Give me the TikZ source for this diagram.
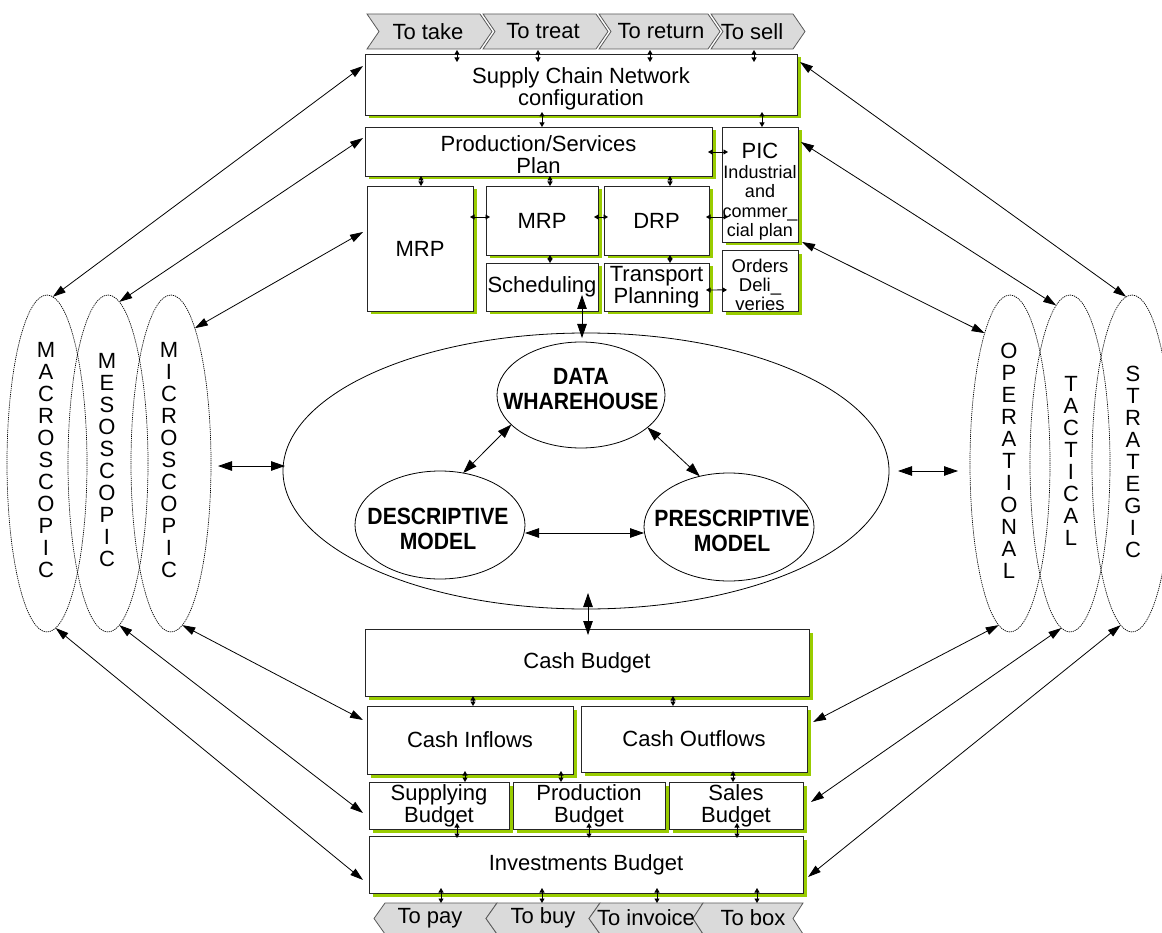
\documentclass[tikz,border=0pt]{standalone}
\usepackage{fontspec}
\setmainfont{Liberation Sans}
\newfontfamily\condsans[FakeStretch=0.9]{Liberation Sans}
\usetikzlibrary{arrows.meta,shapes.geometric,calc,shadows}
\definecolor{shadowgreen}{HTML}{99CC00}
\definecolor{chevfill}{HTML}{DADADA}

\begin{document}
\begin{tikzpicture}[x=1pt,y=-1pt,
  font=\fontsize{22}{22}\selectfont,
  box/.style={rectangle, draw=black!85, line width=0.9pt, fill=white,
    inner sep=0pt, outer sep=0pt, align=center,
    drop shadow={shadow xshift=3.5pt, shadow yshift=-3.5pt, fill=shadowgreen, opacity=1}},
  chev/.style={draw=black!65, line width=0.8pt, fill=chevfill},
  ell/.style={ellipse, draw=black, line width=0.8pt, inner sep=0pt, outer sep=0pt},
  dotell/.style={ellipse, draw=black, line width=0.7pt, dash pattern=on 1.2pt off 0.9pt,
    inner sep=0pt, outer sep=0pt, minimum width=80pt, minimum height=337pt},
  letters/.style={align=center, inner sep=0pt, font=\fontsize{22}{22}\selectfont},
  boldtxt/.style={align=center, inner sep=0pt, font=\fontsize{23.5}{24.5}\condsans\bfseries},
  tinyarr/.style={{Triangle[length=4.5pt,width=5pt]}-{Triangle[length=4.5pt,width=5pt]}, line width=0.9pt},
  bigarr/.style={{Triangle[length=13pt,width=8pt]}-{Triangle[length=13pt,width=8pt]}, line width=0.8pt},
  midarr/.style={{Triangle[length=14pt,width=9.5pt]}-{Triangle[length=14pt,width=9.5pt]}, line width=0.8pt}
]
\useasboundingbox (0,0) rectangle (1162,933);

% ---------- process chevrons (top) ----------
\draw[chev] (367,14) -- (480,14) -- (492,31.5) -- (480,49) -- (367,49) -- (379,31.5) -- cycle;
\draw[chev] (483,14) -- (596,14) -- (608,31.5) -- (596,49) -- (483,49) -- (495,31.5) -- cycle;
\draw[chev] (599,14) -- (708,14) -- (720,31.5) -- (708,49) -- (599,49) -- (611,31.5) -- cycle;
\draw[chev] (711,14) -- (793,14) -- (805,31.5) -- (793,49) -- (711,49) -- (723,31.5) -- cycle;
\node[inner sep=0] (take)   at (428,31.5) {To take};
\node[inner sep=0] (treat)  at (543,31.5) {To treat};
\node[inner sep=0] (return) at (661,31.5) {To return};
\node[inner sep=0] (sell)   at (752,31.5) {To sell};

% ---------- planning boxes ----------
\node[box, minimum width=432pt, minimum height=61pt] (scn) at (581,84.5)
  {\rule{0pt}{24pt}Supply Chain Network\\configuration};
\node[box, minimum width=347pt, minimum height=49pt] (psp) at (538.5,151.5)
  {\rule{0pt}{22pt}Production/Services\\Plan};
\node[box, minimum width=76pt, minimum height=115pt,
      font=\fontsize{18}{19.5}\selectfont] (pic) at (760,184.5)
  {{\fontsize{22}{22}\selectfont\rule{0pt}{30pt}PIC}\\Industrial\\and\\commer\_\\cial plan};
\node[box, minimum width=106pt, minimum height=125pt] (mrpa) at (420,248.5) {MRP};
\node[box, minimum width=112pt, minimum height=69pt] (mrpb) at (542,220.5) {MRP};
\node[box, minimum width=105pt, minimum height=69pt] (drp) at (656.5,220.5) {DRP};
\node[box, minimum width=112pt, minimum height=48pt] (sched) at (542,287) {Scheduling};
\node[box, minimum width=105pt, minimum height=48pt] (transp) at (656.5,287)
  {Transport\\Planning};
\node[box, minimum width=76pt, minimum height=60pt,
      font=\fontsize{18.5}{19}\selectfont] (orders) at (760,281)
  {\rule{0pt}{22pt}Orders\\Deli\_\\veries};

% ---------- budget boxes ----------
\node[box, minimum width=444pt, minimum height=67pt] (cashb) at (587,662.5) {Cash Budget};
\node[box, minimum width=206pt, minimum height=68pt] (cin) at (470,740) {Cash Inflows};
\node[box, minimum width=226pt, minimum height=66pt] (cout) at (694,739) {Cash Outflows};
\node[box, minimum width=140pt, minimum height=47pt] (supb) at (439,805.5) {Supplying\\Budget};
\node[box, minimum width=152pt, minimum height=47pt] (prodb) at (589,805.5) {Production\\Budget};
\node[box, minimum width=134pt, minimum height=47pt] (salesb) at (736,805.5) {Sales\\Budget};
\node[box, minimum width=434pt, minimum height=57pt] (inv) at (586,864.5) {Investments Budget};

% ---------- process chevrons (bottom) ----------
\draw[chev] (374,918.5) -- (385,903) -- (497,903) -- (486,918.5) -- (497,934) -- (385,934) -- cycle;
\draw[chev] (486,918.5) -- (497,903) -- (600,903) -- (589,918.5) -- (600,934) -- (497,934) -- cycle;
\draw[chev] (589,918.5) -- (600,903) -- (703,903) -- (693,918.5) -- (703,934) -- (600,934) -- cycle;
\draw[chev] (693,918.5) -- (703,903) -- (803,903) -- (793,918.5) -- (803,934) -- (703,934) -- cycle;
\node[inner sep=0] (pay)     at (430,918) {To pay};
\node[inner sep=0] (buy)     at (543,918) {To buy};
\node[inner sep=0] (invoice) at (646,918) {To invoice};
\node[inner sep=0] (box)     at (753,918) {To box};

% ---------- decision core ----------
\node[ell, minimum width=606pt, minimum height=276pt] (big) at (586,471) {};
\node[ell, minimum width=168pt, minimum height=106pt] (dw) at (581,395) {};
\node[ell, minimum width=170pt, minimum height=108pt] (desc) at (440,525) {};
\node[ell, minimum width=170pt, minimum height=108pt] (presc) at (729,527) {};
\node[boldtxt] (dwtxt) at (581,389) {DATA\\WHAREHOUSE};
\node[boldtxt] (desctxt) at (438,529) {DESCRIPTIVE\\MODEL};
\node[boldtxt] (presctxt) at (732,531) {PRESCRIPTIVE\\MODEL};

% ---------- scale and horizon ellipses ----------
\node[dotell] (macro) at (47,463.5) {};
\node[dotell] (meso) at (108,463.5) {};
\node[dotell] (micro) at (171,463.5) {};
\node[dotell] (oper) at (1010,463.5) {};
\node[dotell] (tact) at (1070,463.5) {};
\node[dotell] (strat) at (1132,463.5) {};
\node[letters] (macrotxt) at (46,460) {M\\A\\C\\R\\O\\S\\C\\O\\P\\I\\C};
\node[letters] (mesotxt) at (107,460.5) {M\\E\\S\\O\\S\\C\\O\\P\\I\\C};
\node[letters] (microtxt) at (169,460) {M\\I\\C\\R\\O\\S\\C\\O\\P\\I\\C};
\node[letters] (opertxt) at (1009,460.5) {O\\P\\E\\R\\A\\T\\I\\O\\N\\A\\L};
\node[letters] (tacttxt) at (1071,461) {T\\A\\C\\T\\I\\C\\A\\L};
\node[letters] (strattxt) at (1133,461.5) {S\\T\\R\\A\\T\\E\\G\\I\\C};

% ---------- small links: chevrons and planning ----------
\foreach \dx in {92,173,285,389}
  \draw[tinyarr] ($(scn.north west)+(\dx,-4)$) -- ($(scn.north west)+(\dx,8)$);
\draw[tinyarr] ($(scn.south west)+(177,-3)$) -- ($(psp.north west)+(177,0)$);
\draw[tinyarr] ($(scn.south west)+(397,-3)$) -- ($(pic.north west)+(40,0)$);
\draw[tinyarr] ($(psp.north east)+(-4,25)$) -- ($(pic.north west)+(6,25)$);
\draw[tinyarr] ($(psp.south west)+(56,0)$) -- ($(mrpa.north west)+(54,0)$);
\draw[tinyarr] ($(psp.south west)+(185,0)$) -- ($(mrpb.north west)+(64,0)$);
\draw[tinyarr] ($(psp.south west)+(305,0)$) -- ($(drp.north west)+(66,0)$);
\draw[tinyarr] ($(mrpa.north east)+(-3,31)$) -- ($(mrpb.north west)+(4,31)$);
\draw[tinyarr] ($(mrpb.north east)+(-4,31)$) -- ($(drp.north west)+(4,31)$);
\draw[tinyarr] ($(drp.north east)+(-3,31)$) -- ($(pic.north west)+(6,90)$);
\draw[tinyarr] ($(mrpb.south west)+(64,0)$) -- ($(sched.north west)+(64,0)$);
\draw[tinyarr] ($(drp.south west)+(66,0)$) -- ($(transp.north west)+(66,0)$);
\draw[tinyarr] ($(transp.north east)+(-3,27)$) -- ($(orders.north west)+(5,39)$);

% ---------- small links: budgets ----------
\draw[tinyarr] ($(cashb.south west)+(108,0)$) -- ($(cin.north west)+(106,0)$);
\draw[tinyarr] ($(cashb.south west)+(308,0)$) -- ($(cout.north west)+(92,0)$);
\draw[tinyarr] ($(cin.south west)+(98,-3)$) -- ($(supb.north west)+(96,0)$);
\draw[tinyarr] ($(cin.south west)+(194,-3)$) -- ($(prodb.north west)+(48,0)$);
\draw[tinyarr] ($(cout.south west)+(152,-1)$) -- ($(salesb.north west)+(64,0)$);
\draw[tinyarr] ($(supb.south west)+(88,-6)$) -- ($(inv.north west)+(88,2)$);
\draw[tinyarr] ($(prodb.south west)+(76,-6)$) -- ($(inv.north west)+(220,2)$);
\draw[tinyarr] ($(salesb.south west)+(68,-6)$) -- ($(inv.north west)+(368,2)$);
\foreach \dx in {72,173,288,388}
  \draw[tinyarr] ($(inv.south west)+(\dx,-5)$) -- ($(inv.south west)+(\dx,10)$);

% ---------- core links ----------
\draw[midarr] ($(sched.south east)+(-16,-16)$) -- ($(big.north)+(-4,5)$);
\draw[midarr] ($(big.south)+(2,-16)$) -- ($(cashb.north)+(1,6)$);
\draw[midarr] (dw.203) -- (desc.66);
\draw[midarr] (dw.-26) -- (presc.120);
\draw[midarr] ($(desc.east)+(0,8)$) -- ($(presc.west)+(0,6)$);
\draw[midarr] ($(micro.east)+(7,2.5)$) -- ($(big.west)+(2,-5)$);
\draw[midarr] ($(big.east)+(9,0)$) -- ($(oper.west)+(-12,7.5)$);

% ---------- long links to the scale ellipses ----------
\draw[bigarr] ($(scn.north west)+(-2,12)$) -- (macro.88);
\draw[bigarr] ($(psp.north west)+(-2,11)$) -- (meso.86);
\draw[bigarr] ($(mrpa.north west)+(-4,46)$) -- (micro.80);
\draw[bigarr] (macro.-87) -- ($(inv.north west)+(-6,44)$);
\draw[bigarr] (meso.-86) -- ($(supb.north west)+(-6,31)$);
\draw[bigarr] (micro.-86) -- ($(cin.north west)+(-4,14)$);

% ---------- long links to the horizon ellipses ----------
\draw[bigarr] ($(scn.north east)+(3,8)$) -- (strat.92);
\draw[bigarr] ($(pic.north east)+(3,15)$) -- (tact.95);
\draw[bigarr] ($(pic.south east)+(4,0)$) -- (oper.101);
\draw[bigarr] (oper.-94) -- ($(cout.north east)+(6,16)$);
\draw[bigarr] (tact.-93) -- ($(salesb.north east)+(8,20)$);
\draw[bigarr] (strat.-94) -- ($(inv.north east)+(5,41)$);
\end{tikzpicture}
\end{document}
